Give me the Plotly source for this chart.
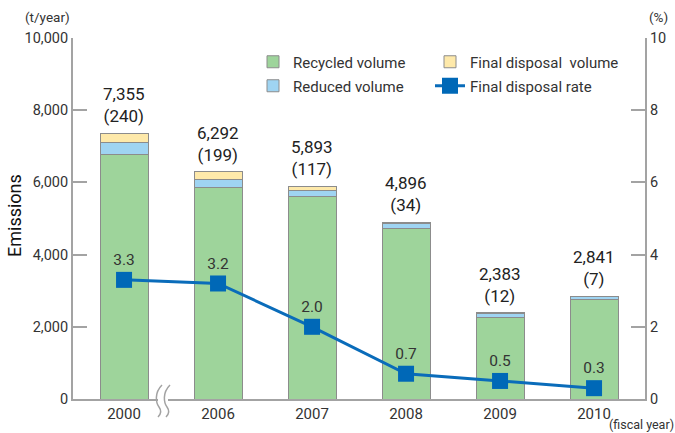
import plotly.graph_objects as go

years = ["2000", "2006", "2007", "2008", "2009", "2010"]
totals = [7355, 6292, 5893, 4896, 2383, 2841]
final_disposal = [240, 199, 117, 34, 12, 7]
reduced = [335, 230, 170, 130, 100, 90]
recycled = [6780, 5863, 5606, 4732, 2271, 2744]
rates = [3.3, 3.2, 2.0, 0.7, 0.5, 0.3]

FONT = "Roboto, sans-serif"
TXT = "#333333"
AX = "#a3a3a3"
EDGE = "#8c8c8c"

W, H = 675, 433
L, R, T, B = 73, 30, 38, 34
pw, ph = W - L - R, H - T - B


def px(x):
    return (x - L) / pw


def py(y):
    return (H - B - y) / ph


fig = go.Figure()
fig.add_trace(go.Bar(x=years, y=recycled, name="Recycled volume",
                     marker=dict(color="#9ed49b", line=dict(color=EDGE, width=1)),
                     width=0.51, legend="legend", hoverinfo="skip"))
fig.add_trace(go.Bar(x=years, y=reduced, name="Reduced volume",
                     marker=dict(color="#9fd4f2", line=dict(color=EDGE, width=1)),
                     width=0.51, legend="legend3", hoverinfo="skip"))
fig.add_trace(go.Bar(x=years, y=final_disposal, name="Final disposal\u00a0 volume",
                     marker=dict(color="#fee9aa", line=dict(color=EDGE, width=1)),
                     width=0.51, legend="legend2", hoverinfo="skip"))
fig.add_trace(go.Scatter(x=years, y=rates, name="Final disposal rate", yaxis="y2",
                         mode="lines+markers+text",
                         text=[f"{r:.1f}" for r in rates], textposition="top center",
                         textfont=dict(size=15.5, color=TXT, family=FONT),
                         line=dict(color="#0a6cba", width=3),
                         marker=dict(symbol="square", size=16, color="#0068b7"),
                         legend="legend4", hoverinfo="skip"))

annotations = []
for i, (tot, fd) in enumerate(zip(totals, final_disposal)):
    annotations.append(dict(x=i, y=tot, xref="x", yref="y",
                            text=f"{tot:,}<br>({fd})", showarrow=False,
                            yanchor="bottom", yshift=5,
                            font=dict(size=17, color="#222222", family=FONT)))

pa = dict(xref="paper", yref="paper", showarrow=False, xanchor="center", yanchor="middle")
annotations += [
    dict(x=px(47), y=py(17), text="(t/year)", font=dict(size=13.5, color=TXT, family=FONT), **pa),
    dict(x=px(658), y=py(17), text="(%)", font=dict(size=13.5, color=TXT, family=FONT), **pa),
    dict(x=px(641), y=py(424), text="(fiscal year)", font=dict(size=12.5, color=TXT, family=FONT), **pa),
    dict(x=px(15), y=py(216), text="Emissions", textangle=-90,
         font=dict(size=18, color="#111111", family=FONT), **pa),
]

# axis break symbol "((" between 2000 and 2006
shapes = []
bx = px(163)
shapes.append(dict(type="rect", xref="paper", yref="paper", xsizemode="pixel", ysizemode="pixel",
                   xanchor=bx, yanchor=0, x0=-5, x1=5, y0=-3, y1=3,
                   fillcolor="white", line=dict(width=0), layer="above"))
for dx in (-4, 4):
    shapes.append(dict(type="path", xref="paper", yref="paper", xsizemode="pixel", ysizemode="pixel",
                       xanchor=bx, yanchor=0,
                       path=f"M{dx+3},14 C{dx-5},6 {dx-3},-4 {dx},-8 C{dx+3},-12 {dx+2},-15 {dx-1},-18",
                       line=dict(color=AX, width=1.5), layer="above"))

lc = dict(orientation="h", xanchor="left", yanchor="middle",
          font=dict(size=15, color=TXT, family=FONT), bgcolor="rgba(0,0,0,0)")

fig.update_layout(
    width=W, height=H,
    margin=dict(l=L, r=R, t=T, b=B, autoexpand=False),
    barmode="stack",
    plot_bgcolor="white", paper_bgcolor="white",
    font=dict(family=FONT, size=14.5, color=TXT),
    showlegend=True,
    legend=dict(x=px(253), y=py(62), **lc),
    legend2=dict(x=px(430), y=py(62), **lc),
    legend3=dict(x=px(253), y=py(86), **lc),
    legend4=dict(x=px(430), y=py(86), **lc),
    xaxis=dict(type="category", range=[-0.543, 5.542], showline=True, linecolor=AX, linewidth=2,
               ticks="", showgrid=False, tickfont=dict(size=15, color=TXT), fixedrange=True),
    yaxis=dict(range=[0, 10000], dtick=2000, tickformat=",", showline=True, linecolor=AX,
               linewidth=2, ticks="inside", ticklen=14, tickcolor=AX, tickwidth=1.5,
               showgrid=False, zeroline=False, tickfont=dict(size=14.5, color=TXT)),
    yaxis2=dict(range=[0, 10], dtick=2, overlaying="y", side="right", showline=True,
                linecolor=AX, linewidth=2, ticks="inside", ticklen=14, tickcolor=AX,
                tickwidth=1.5, showgrid=False, zeroline=False, tickfont=dict(size=14.5, color=TXT)),
    annotations=annotations,
    shapes=shapes,
)

fig.write_html("out.html", config={"displayModeBar": False},
               post_script="document.body.style.margin='0';document.body.style.padding='0';")
